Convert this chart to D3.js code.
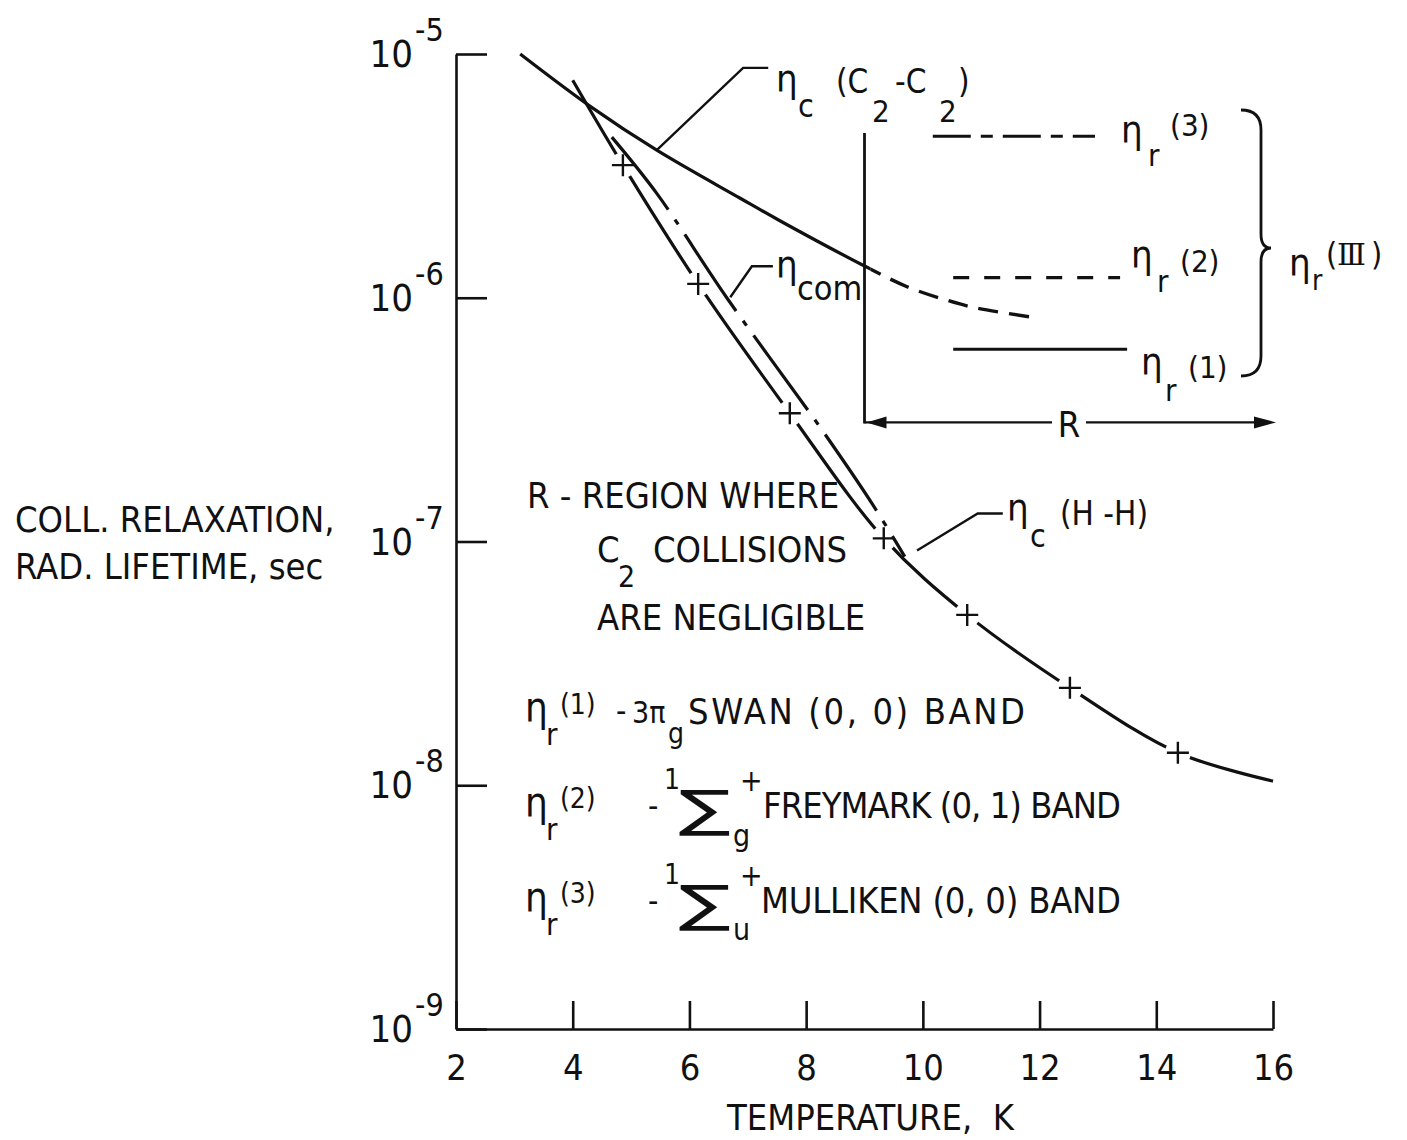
<!DOCTYPE html>
<html><head><meta charset="utf-8">
<script src="https://cdn.jsdelivr.net/npm/d3@7"></script>
<style>
body{margin:0;background:#fff;}
svg text{font-family:"Liberation Sans Narrow","DejaVu Sans Condensed","Arial Narrow",sans-serif;fill:#111;}
</style></head><body>
<svg id="c" width="1407" height="1140"></svg>
<script>
// ---------------- data ----------------
const xTicks = [2, 4, 6, 8, 10, 12, 14, 16];
const yTickExps = [-5, -6, -7, -8, -9];
// eta_c (C2-C2): solid up to T~9, dashed beyond
const c2T = [3.1, 4.3, 5.44, 6.87, 7.55, 9.0, 9.73, 10.41, 10.93, 12.0];
const c2V = [1.0e-5, 6.1e-6, 4.03e-6, 2.56e-6, 2.07e-6, 1.35e-6, 1.11e-6, 9.77e-7, 9.06e-7, 8.24e-7];
const c2DashFrom = 9.1;
// eta_c (H-H) solid with + markers
const hhT = [4.0, 4.86, 6.15, 7.72, 9.33, 10.76, 12.52, 14.37, 16.0];
const hhV = [7.8e-6, 3.5e-6, 1.14e-6, 3.36e-7, 1.03e-7, 5.0e-8, 2.51e-8, 1.36e-8, 1.04e-8];
const hhMarkT = [4.86, 6.15, 7.72, 9.33, 10.76, 12.52, 14.37];
const hhMarkV = [3.5e-6, 1.14e-6, 3.36e-7, 1.03e-7, 5.0e-8, 2.51e-8, 1.36e-8];
// eta_com dash-dot
const comT = [4.67, 5.44, 6.64, 8.24, 9.13, 9.69];
const comV = [4.56e-6, 2.68e-6, 1.0e-6, 2.94e-7, 1.43e-7, 8.67e-8];
// radiative lifetimes (constant)
const r3T = [10.17, 12.95], r3V = [4.6e-6, 4.6e-6];
const r2T = [10.52, 13.38], r2V = [1.21e-6, 1.21e-6];
const r1T = [10.52, 13.5],  r1V = [6.15e-7, 6.15e-7];
// region R boundary
const regionT = 9.0;
const regionTop = 4.74e-6, regionArrowV = 3.08e-7, regionEndT = 16;

// ---------------- scales ----------------
const svg = d3.select("#c");
const x = d3.scaleLinear().domain([2, 16]).range([456, 1273]);
const y = d3.scaleLog().domain([1e-9, 1e-5]).range([1029, 54]);
const INK = "#111";
const zip = (a, b) => a.map((v, i) => [v, b[i]]);
const line = d3.line().x(d => x(d[0])).y(d => y(d[1])).curve(d3.curveCatmullRom.alpha(0.5));
const straight = d3.line().x(d => x(d[0])).y(d => y(d[1]));

// ---------------- axes ----------------
const yAxis = svg.append("g").attr("transform", `translate(${x(2)},0)`)
  .call(d3.axisLeft(y).tickValues(yTickExps.map(e => Math.pow(10, e)))
        .tickSizeInner(-31).tickSizeOuter(0).tickFormat(""));
const xAxis = svg.append("g").attr("transform", `translate(0,${y(1e-9)})`)
  .call(d3.axisBottom(x).tickValues(xTicks).tickSizeInner(-28).tickSizeOuter(0)
        .tickPadding(25).tickFormat(d3.format("d")));
[yAxis, xAxis].forEach(g => {
  g.attr("font-family", null).attr("font-size", null);
  g.selectAll("path,line").attr("stroke", INK).attr("stroke-width", 2.6);
});
xAxis.selectAll("text").attr("font-size", 36).attr("fill", INK);

// y tick labels 10^n
yTickExps.forEach(e => {
  const ty = y(Math.pow(10, e));
  svg.append("text").attr("x", 413).attr("y", ty + 13).attr("text-anchor", "end")
     .attr("font-size", 38).text("10");
  svg.append("text").attr("x", 415).attr("y", ty - 13).attr("font-size", 32).text("-" + Math.abs(e));
});

// axis titles
svg.append("text").attr("x", 15).attr("y", 532).attr("font-size", 36).text("COLL. RELAXATION,");
svg.append("text").attr("x", 15).attr("y", 579).attr("font-size", 36).text("RAD. LIFETIME, sec");
svg.append("text").attr("x", 727).attr("y", 1130).attr("font-size", 36)
   .style("white-space", "pre").text("TEMPERATURE,  K");

// ---------------- curves ----------------
const defs = svg.append("defs");
defs.append("clipPath").attr("id", "cSolid").append("rect")
  .attr("x", 0).attr("y", 0).attr("width", x(c2DashFrom)).attr("height", 1140);
defs.append("clipPath").attr("id", "cDash").append("rect")
  .attr("x", x(c2DashFrom)).attr("y", 0).attr("width", 1407).attr("height", 1140);

const c2Data = zip(c2T, c2V);
svg.append("path").attr("d", line(c2Data)).attr("clip-path", "url(#cSolid)")
  .attr("fill", "none").attr("stroke", INK).attr("stroke-width", 3.2);
svg.append("path").attr("d", line(c2Data)).attr("clip-path", "url(#cDash)")
  .attr("fill", "none").attr("stroke", INK).attr("stroke-width", 3.4).attr("stroke-dasharray", "20,11");

// H-H
svg.append("path").attr("d", line(zip(hhT, hhV)))
  .attr("fill", "none").attr("stroke", INK).attr("stroke-width", 3.2);
const marks = zip(hhMarkT, hhMarkV);
svg.selectAll(".halo").data(marks).join("circle").attr("class", "halo")
  .attr("cx", d => x(d[0])).attr("cy", d => y(d[1])).attr("r", 13).attr("fill", "#fff");
svg.selectAll(".mk").data(marks).join("path").attr("class", "mk")
  .attr("transform", d => `translate(${x(d[0])},${y(d[1])})`)
  .attr("d", "M-11,0H11M0,-11V11").attr("stroke", INK).attr("stroke-width", 2.4);

// eta_com dash-dot
svg.append("path").attr("d", line(zip(comT, comV)))
  .attr("fill", "none").attr("stroke", INK).attr("stroke-width", 3.2)
  .attr("stroke-dasharray", "92,12,6,12");

// radiative lines
svg.append("path").attr("d", straight(zip(r3T, r3V))).attr("fill", "none")
  .attr("stroke", INK).attr("stroke-width", 3).attr("stroke-dasharray", "38,10,12,10");
svg.append("path").attr("d", straight(zip(r2T, r2V))).attr("fill", "none")
  .attr("stroke", INK).attr("stroke-width", 3.2).attr("stroke-dasharray", "16,15");
svg.append("path").attr("d", straight(zip(r1T, r1V))).attr("fill", "none")
  .attr("stroke", INK).attr("stroke-width", 3);

// region R
const rx = x(regionT), ay = y(regionArrowV);
svg.append("line").attr("x1", rx).attr("x2", rx).attr("y1", y(regionTop)).attr("y2", ay + 1)
  .attr("stroke", INK).attr("stroke-width", 2.8);
svg.append("line").attr("x1", rx).attr("x2", 1052).attr("y1", ay).attr("y2", ay)
  .attr("stroke", INK).attr("stroke-width", 2.2);
svg.append("line").attr("x1", 1086).attr("x2", x(regionEndT) - 4).attr("y1", ay).attr("y2", ay)
  .attr("stroke", INK).attr("stroke-width", 2.2);
svg.append("path").attr("d", `M${rx + 2},${ay}L${rx + 22},${ay - 6}L${rx + 22},${ay + 6}Z`).attr("fill", INK);
const ex = x(regionEndT) + 3;
svg.append("path").attr("d", `M${ex},${ay}L${ex - 22},${ay - 6}L${ex - 22},${ay + 6}Z`).attr("fill", INK);
svg.append("text").attr("x", 1069).attr("y", ay + 15).attr("text-anchor", "middle")
  .attr("font-size", 36).text("R");

// brace
{
  const bx = 1261, y0 = 110, y1 = 376, ym = 248;
  svg.append("path").attr("d",
    `M${bx - 20},${y0}Q${bx},${y0} ${bx},${y0 + 20}L${bx},${ym - 14}Q${bx},${ym} ${bx + 10},${ym}` +
    `Q${bx},${ym} ${bx},${ym + 14}L${bx},${y1 - 20}Q${bx},${y1} ${bx - 20},${y1}`)
    .attr("fill", "none").attr("stroke", INK).attr("stroke-width", 2.8);
}

// leader lines
const leader = pts => svg.append("path").attr("d", straight(pts)).attr("fill", "none")
  .attr("stroke", INK).attr("stroke-width", 2.4);
leader([[5.44, 4.03e-6], [6.92, Math.pow(10, -5.057)], [7.35, Math.pow(10, -5.057)]]);
leader([[6.70, Math.pow(10, -5.998)], [7.07, Math.pow(10, -5.871)], [7.43, Math.pow(10, -5.871)]]);
leader([[9.90, Math.pow(10, -7.037)], [10.94, Math.pow(10, -6.885)], [11.37, Math.pow(10, -6.885)]]);

// ---------------- text labels ----------------
function rich(parts) {
  const t = svg.append("text");
  parts.forEach(p => {
    const s = t.append("tspan").attr("x", p.x).attr("y", p.y).attr("font-size", p.s || 36).text(p.t);
    if (p.ff) s.attr("font-family", p.ff);
    if (p.len) s.attr("textLength", p.len).attr("lengthAdjust", p.adj || "spacing");
  });
  return t;
}
// eta_c (C2-C2)
rich([{t: "η", x: 776, y: 92, s: 38}, {t: "c", x: 798, y: 117, s: 32},
      {t: "(C", x: 836, y: 93, s: 33}, {t: "2", x: 872, y: 122, s: 31},
      {t: "-C", x: 895, y: 93, s: 33}, {t: "2", x: 939, y: 122, s: 31},
      {t: ")", x: 958, y: 93, s: 33}]);
// eta_com
rich([{t: "η", x: 776, y: 278, s: 38}, {t: "com", x: 797, y: 300, s: 34}]);
// eta_c (H-H)
rich([{t: "η", x: 1007, y: 521, s: 38}, {t: "c", x: 1030, y: 547, s: 32},
      {t: "(H -H)", x: 1060, y: 525, s: 33}]);
// eta_r (3),(2),(1)
rich([{t: "η", x: 1121, y: 143, s: 38}, {t: "r", x: 1148, y: 166, s: 31}, {t: "(3)", x: 1170, y: 136, s: 31}]);
rich([{t: "η", x: 1131, y: 268, s: 38}, {t: "r", x: 1157, y: 292, s: 31}, {t: "(2)", x: 1180, y: 272, s: 31}]);
rich([{t: "η", x: 1141, y: 375, s: 38}, {t: "r", x: 1165, y: 401, s: 31}, {t: "(1)", x: 1188, y: 378, s: 31}]);
// eta_r (III)
rich([{t: "η", x: 1289, y: 276, s: 38}, {t: "r", x: 1312, y: 290, s: 28},
      {t: "(", x: 1326, y: 265, s: 32}, {t: "Ⅲ", x: 1337, y: 265, s: 30, ff: "DejaVu Serif"},
      {t: ")", x: 1371, y: 265, s: 32}]);

// region notes
svg.append("text").attr("x", 527).attr("y", 508).attr("font-size", 36).text("R - REGION WHERE");
rich([{t: "C", x: 597, y: 562, s: 36}, {t: "2", x: 618, y: 587, s: 30}, {t: "COLLISIONS", x: 653, y: 562, s: 36}]);
svg.append("text").attr("x", 597).attr("y", 630).attr("font-size", 36).text("ARE NEGLIGIBLE");

// legend lines
rich([{t: "η", x: 525, y: 721, s: 40}, {t: "r", x: 546, y: 745, s: 31}, {t: "(1)", x: 560, y: 714, s: 28},
      {t: "-", x: 616, y: 722, s: 32}, {t: "3π", x: 632, y: 723, s: 30}, {t: "g", x: 668, y: 743, s: 28},
      {t: "SWAN (0, 0) BAND", x: 688, y: 724, s: 36, len: 337}]);
rich([{t: "η", x: 525, y: 816, s: 40}, {t: "r", x: 546, y: 840, s: 31}, {t: "(2)", x: 560, y: 808, s: 28},
      {t: "-", x: 648, y: 817, s: 32}, {t: "1", x: 664, y: 789, s: 28},
      {t: "∑", x: 679, y: 826, s: 50, len: 52, adj: "spacingAndGlyphs"},
      {t: "+", x: 740, y: 791, s: 30}, {t: "g", x: 733, y: 846, s: 30},
      {t: "FREYMARK (0, 1) BAND", x: 763, y: 818, s: 36, len: 358}]);
rich([{t: "η", x: 525, y: 911, s: 40}, {t: "r", x: 546, y: 935, s: 31}, {t: "(3)", x: 560, y: 903, s: 28},
      {t: "-", x: 648, y: 912, s: 32}, {t: "1", x: 664, y: 884, s: 28},
      {t: "∑", x: 679, y: 921, s: 50, len: 52, adj: "spacingAndGlyphs"},
      {t: "+", x: 740, y: 886, s: 30}, {t: "u", x: 733, y: 940, s: 30},
      {t: "MULLIKEN (0, 0) BAND", x: 761, y: 913, s: 36, len: 360}]);
</script>
</body></html>
